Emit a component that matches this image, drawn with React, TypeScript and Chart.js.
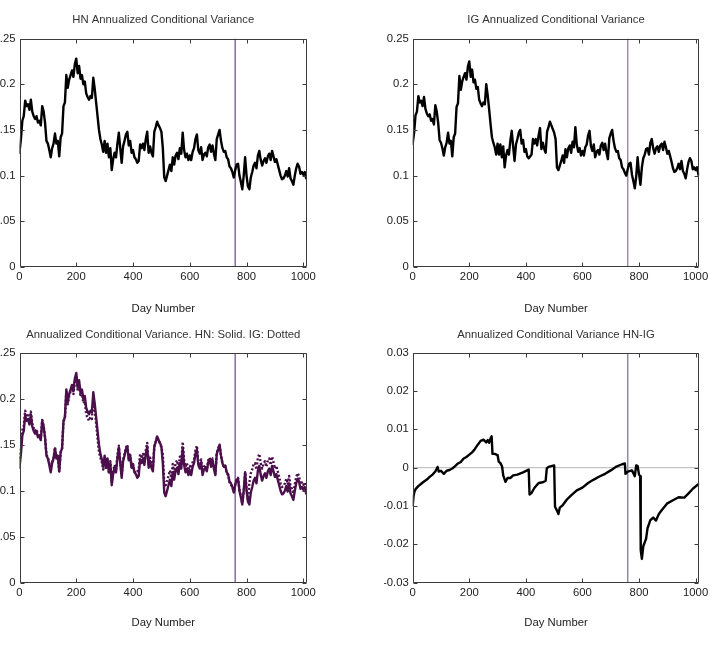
import React, { useEffect, useRef } from "react";
import { Chart, registerables } from "chart.js";

Chart.register(...registerables);
const fontFamily = "'Liberation Sans', Arial, Helvetica, sans-serif";
Chart.defaults.font.family = fontFamily;

// Trading-day grid shared by the two conditional-variance series (one reading every 5 days)
const days: number[] = Array.from({ length: 203 }, (_, i) => i * 5);

// HN model annualized conditional variance
const hnVariance: number[] = [
  0.125, 0.14, 0.16, 0.165, 0.182, 0.176, 0.178, 0.172, 0.183, 0.17,
  0.165, 0.162, 0.165, 0.158, 0.16, 0.155, 0.176, 0.17, 0.158, 0.138,
  0.135, 0.128, 0.12, 0.13, 0.135, 0.146, 0.135, 0.138, 0.121, 0.142,
  0.146, 0.176, 0.18, 0.21, 0.196, 0.205, 0.21, 0.215, 0.208, 0.222,
  0.228, 0.212, 0.22, 0.206, 0.21, 0.2, 0.203, 0.19, 0.186, 0.183,
  0.187, 0.185, 0.207, 0.195, 0.18, 0.165, 0.15, 0.14, 0.134, 0.126,
  0.138, 0.125, 0.135, 0.12, 0.13, 0.106, 0.118, 0.125, 0.12, 0.135,
  0.147, 0.13, 0.114, 0.132, 0.138, 0.145, 0.148, 0.133, 0.138, 0.125,
  0.128, 0.12, 0.118, 0.114, 0.116, 0.134, 0.13, 0.135, 0.128, 0.14,
  0.148, 0.125, 0.132, 0.125, 0.121, 0.148, 0.153, 0.159, 0.155, 0.152,
  0.148, 0.13, 0.098, 0.094, 0.1, 0.106, 0.112, 0.105, 0.12, 0.112,
  0.122, 0.125, 0.118, 0.13, 0.124, 0.147, 0.128, 0.12, 0.124, 0.117,
  0.122, 0.117, 0.126, 0.13, 0.14, 0.145, 0.128, 0.124, 0.131, 0.117,
  0.123, 0.125, 0.121, 0.131, 0.134, 0.126, 0.133, 0.124, 0.117, 0.14,
  0.145, 0.15, 0.138, 0.13, 0.126, 0.127, 0.12, 0.118, 0.11, 0.108,
  0.104, 0.098, 0.106, 0.112, 0.113, 0.1, 0.093, 0.085, 0.1, 0.12,
  0.1, 0.088, 0.085, 0.098, 0.104, 0.111, 0.114, 0.108, 0.122, 0.127,
  0.117, 0.111, 0.116, 0.119, 0.114, 0.121, 0.124, 0.117, 0.127, 0.121,
  0.115, 0.118, 0.112, 0.106, 0.1, 0.096, 0.097, 0.1, 0.105, 0.099,
  0.108, 0.097, 0.094, 0.09, 0.1, 0.108, 0.113, 0.11, 0.102, 0.104,
  0.101, 0.104, 0.097,
];

// IG model annualized conditional variance
const igVariance: number[] = [
  0.135, 0.147, 0.166, 0.17, 0.187, 0.18, 0.182, 0.176, 0.186, 0.173,
  0.168, 0.165, 0.167, 0.16, 0.162, 0.156, 0.177, 0.17, 0.158, 0.139,
  0.136, 0.13, 0.122, 0.131, 0.136, 0.147, 0.135, 0.138, 0.121, 0.142,
  0.146, 0.175, 0.179, 0.209, 0.194, 0.203, 0.208, 0.212, 0.205, 0.219,
  0.225, 0.208, 0.216, 0.202, 0.205, 0.195, 0.197, 0.183, 0.179, 0.176,
  0.18, 0.178, 0.2, 0.188, 0.173, 0.157, 0.142, 0.136, 0.131, 0.123,
  0.135, 0.123, 0.134, 0.12, 0.132, 0.109, 0.122, 0.128, 0.123, 0.138,
  0.149, 0.132, 0.116, 0.134, 0.14, 0.147, 0.15, 0.135, 0.139, 0.126,
  0.129, 0.121, 0.119, 0.121, 0.123, 0.14, 0.135, 0.14, 0.133, 0.144,
  0.152, 0.129, 0.136, 0.129, 0.125, 0.148, 0.153, 0.159, 0.155, 0.151,
  0.147, 0.14, 0.109, 0.106, 0.111, 0.116, 0.122, 0.114, 0.129, 0.12,
  0.13, 0.133, 0.125, 0.137, 0.131, 0.153, 0.134, 0.126, 0.13, 0.122,
  0.127, 0.122, 0.131, 0.134, 0.144, 0.149, 0.132, 0.127, 0.134, 0.12,
  0.126, 0.128, 0.123, 0.133, 0.136, 0.128, 0.135, 0.125, 0.118, 0.141,
  0.146, 0.15, 0.138, 0.13, 0.126, 0.127, 0.119, 0.117, 0.109, 0.107,
  0.103, 0.1, 0.107, 0.113, 0.114, 0.101, 0.094, 0.086, 0.099, 0.12,
  0.102, 0.09, 0.109, 0.119, 0.123, 0.129, 0.13, 0.123, 0.136, 0.14,
  0.13, 0.124, 0.13, 0.132, 0.126, 0.133, 0.135, 0.128, 0.137, 0.131,
  0.124, 0.127, 0.121, 0.115, 0.108, 0.104, 0.105, 0.108, 0.113, 0.107,
  0.116, 0.105, 0.102, 0.097, 0.107, 0.115, 0.119, 0.116, 0.107, 0.109,
  0.106, 0.109, 0.101,
];

// HN minus IG conditional variance
const diffDays: number[] = [
  0, 3, 6, 10, 20, 30, 40, 50, 60, 70, 80, 88, 92, 100, 110, 120, 130, 140, 150, 160,
  170, 180, 190, 200, 210, 220, 230, 240, 250, 260, 265, 270, 275, 279, 282, 290, 300, 304, 310, 316,
  320, 328, 335, 345, 355, 370, 390, 410, 413, 420, 430, 445, 460, 470, 474, 480, 490, 500, 503, 510,
  515, 520, 530, 545, 560, 580, 600, 620, 640, 660, 680, 700, 720, 740, 750, 752, 760, 775, 785, 790,
  795, 800, 804, 806, 810, 815, 825, 830, 840, 850, 860, 870, 880, 900, 920, 940, 960, 975, 990, 1010,
];
const diffValues: number[] = [
  -0.0098, -0.0075, -0.0063, -0.0056, -0.0048, -0.0042, -0.0036, -0.0031, -0.0024, -0.0018,
  -0.001, 0.0002, -0.001, -0.0008, -0.0016, -0.0008, -0.0006, -0.0002, 0.0004, 0.0011,
  0.0015, 0.0024, 0.0028, 0.0034, 0.004, 0.0049, 0.006, 0.007, 0.0073, 0.0066,
  0.0072, 0.0065, 0.0076, 0.0082, 0.0036, 0.0036, 0.0033, 0.0016, 0.0012, 0.0003,
  -0.002, -0.0037, -0.0027, -0.0027, -0.002, -0.0018, -0.0012, -0.0005, -0.007, -0.0066,
  -0.0053, -0.004, -0.0038, -0.0034, -0.0002, 0.0002, 0.0004, 0.0006, -0.0102, -0.0112,
  -0.0121, -0.0104, -0.0098, -0.0083, -0.0072, -0.0059, -0.0052, -0.004, -0.0031, -0.0023,
  -0.0016, -0.0007, 0.0003, 0.0009, 0.0011, -0.0016, -0.001, -0.0007, -0.0022, 0.0006,
  0.0004, -0.0018, -0.0022, -0.0215, -0.0238, -0.0205, -0.0185, -0.0158, -0.0137, -0.013,
  -0.0138, -0.0121, -0.0111, -0.0093, -0.0085, -0.0077, -0.0078, -0.0067, -0.0055, -0.0043,
];

// Day at which the estimation sample ends
const sampleBreakDay = 760;
const dayMax = 1013;

// Axis ticks
const xTickValues: number[] = [0, 200, 400, 600, 800, 1000];
const xTickLabels: string[] = ["0", "200", "400", "600", "800", "1000"];
const varTickValues: number[] = [0, 0.05, 0.1, 0.15, 0.2, 0.25];
const varTickLabels: string[] = ["0", "0.05", "0.1", "0.15", "0.2", "0.25"];
const diffTickValues: number[] = [-0.03, -0.02, -0.01, 0, 0.01, 0.02, 0.03];
const diffTickLabels: string[] = ["-0.03", "-0.02", "-0.01", "0", "0.01", "0.02", "0.03"];

const titles: string[] = [
  "HN Annualized Conditional Variance",
  "IG Annualized Conditional Variance",
  "Annualized Conditional Variance. HN: Solid. IG: Dotted",
  "Annualized Conditional Variance HN-IG",
];
const xAxisTitle = "Day Number";

const textSize = 11.3;

const toPoints = (xs: number[], ys: number[]) => xs.map((x, i) => ({ x, y: ys[i] }));

// Box around the plot area with inward-pointing tick marks on all four sides
const framePlugin = {
  id: "matlabFrame",
  afterDraw(chart: any) {
    const { ctx, chartArea: a, scales } = chart;
    const xs = scales.x;
    const ys = scales.y;
    const L = 4;
    const left = Math.round(a.left) + 0.5;
    const right = Math.round(a.right) - 0.5;
    const top = Math.round(a.top) + 0.5;
    const bottom = Math.round(a.bottom) - 0.5;
    ctx.save();
    ctx.strokeStyle = "#3c3c3c";
    ctx.lineWidth = 1;
    ctx.beginPath();
    ctx.rect(left, top, right - left, bottom - top);
    xs.ticks.forEach((t: any) => {
      const px = Math.round(xs.getPixelForValue(t.value)) + 0.5;
      ctx.moveTo(px, bottom);
      ctx.lineTo(px, bottom - L);
      ctx.moveTo(px, top);
      ctx.lineTo(px, top + L);
    });
    ys.ticks.forEach((t: any) => {
      const py = Math.round(ys.getPixelForValue(t.value)) + 0.5;
      ctx.moveTo(left, py);
      ctx.lineTo(left + L, py);
      ctx.moveTo(right, py);
      ctx.lineTo(right - L, py);
    });
    ctx.stroke();
    ctx.restore();
  },
};

// Panel heading centred over the plot area
const panelTitlePlugin = {
  id: "panelTitle",
  afterDraw(chart: any, _args: any, opts: any) {
    const { ctx, chartArea: a } = chart;
    ctx.save();
    ctx.fillStyle = "#333";
    ctx.font = `${textSize}px ${fontFamily}`;
    ctx.textAlign = "center";
    ctx.textBaseline = "middle";
    ctx.fillText(opts.text, (a.left + a.right) / 2, a.top - opts.gap);
    ctx.restore();
  },
};

type PanelSpec = {
  left: number;
  top: number;
  width: number;
  height: number;
  yAxisWidth: number;
  padRight: number;
  padTop: number;
  padBottom: number;
  titleGap: number;
  xAxisHeight: number;
  title: string;
  yMin: number;
  yMax: number;
  yTicks: number[];
  yLabels: string[];
  datasets: any[];
};

function Panel({ spec }: { spec: PanelSpec }) {
  const ref = useRef<HTMLCanvasElement | null>(null);
  useEffect(() => {
    if (!ref.current) return;
    const chart = new Chart(ref.current, {
      type: "line",
      data: { datasets: spec.datasets },
      plugins: [framePlugin, panelTitlePlugin],
      options: {
        animation: false,
        responsive: false,
        maintainAspectRatio: false,
        layout: { padding: { left: 0, top: spec.padTop, right: spec.padRight, bottom: spec.padBottom } },
        plugins: {
          legend: { display: false },
          tooltip: { enabled: false },
          title: { display: false },
          panelTitle: { text: spec.title, gap: spec.titleGap },
        },
        elements: { point: { radius: 0 }, line: { tension: 0 } },
        scales: {
          x: {
            type: "linear",
            min: 0,
            max: dayMax,
            grid: { display: false, drawTicks: false },
            border: { display: false },
            afterBuildTicks: (s: any) => {
              s.ticks = xTickValues.map((v) => ({ value: v }));
            },
            afterFit: (s: any) => {
              s.height = spec.xAxisHeight;
            },
            ticks: {
              autoSkip: false,
              maxRotation: 0,
              padding: 3,
              color: "#222",
              font: { size: textSize },
              callback: (_v: any, i: number) => xTickLabels[i],
            },
            title: {
              display: true,
              text: xAxisTitle,
              color: "#222",
              font: { size: textSize },
              padding: { top: 0, bottom: 0 },
            },
          },
          y: {
            type: "linear",
            min: spec.yMin,
            max: spec.yMax,
            grid: { display: false, drawTicks: false },
            border: { display: false },
            afterBuildTicks: (s: any) => {
              s.ticks = spec.yTicks.map((v) => ({ value: v }));
            },
            afterFit: (s: any) => {
              s.width = spec.yAxisWidth;
            },
            ticks: {
              autoSkip: false,
              padding: 4,
              color: "#222",
              font: { size: textSize },
              callback: (_v: any, i: number) => spec.yLabels[i],
            },
          },
        },
      } as any,
    });
    return () => chart.destroy();
  }, [spec]);
  return (
    <canvas
      ref={ref}
      width={spec.width}
      height={spec.height}
      style={{
        position: "absolute",
        left: spec.left,
        top: spec.top,
        width: spec.width,
        height: spec.height,
      }}
    />
  );
}

const black = "#000000";
const purple = "#4b0f4b";

const seriesLine = (data: any[], color: string, dash: number[] = []) => ({
  data,
  borderColor: color,
  borderWidth: 2.4,
  borderDash: dash,
  borderJoinStyle: "round",
  borderCapStyle: dash.length ? "butt" : "round",
  pointRadius: 0,
  fill: false,
});

const markerLine = (y0: number, y1: number, color: string) => ({
  data: [
    { x: sampleBreakDay, y: y0 },
    { x: sampleBreakDay, y: y1 },
  ],
  borderColor: color,
  borderWidth: 1.5,
  pointRadius: 0,
  fill: false,
});

const topRow = { top: 0, height: 320, padTop: 38.5, padBottom: 4.4, titleGap: 18.5, xAxisHeight: 48.6 };
const bottomRow = { top: 320, height: 337, padTop: 32.7, padBottom: 27.1, titleGap: 18, xAxisHeight: 47.2 };
const leftCol = { left: -31, width: 388, yAxisWidth: 50.5, padRight: 50 };
const rightCol = { left: 384, width: 330, yAxisWidth: 28.7, padRight: 14.7 };

const hnPoints = toPoints(days, hnVariance);
const igPoints = toPoints(days, igVariance);
const diffPoints = toPoints(diffDays, diffValues);

const panels: PanelSpec[] = [
  {
    ...topRow,
    ...leftCol,
    title: titles[0],
    yMin: 0,
    yMax: 0.25,
    yTicks: varTickValues,
    yLabels: varTickLabels,
    datasets: [seriesLine(hnPoints, black), markerLine(0, 0.25, "#8a6a9c")],
  },
  {
    ...topRow,
    ...rightCol,
    title: titles[1],
    yMin: 0,
    yMax: 0.25,
    yTicks: varTickValues,
    yLabels: varTickLabels,
    datasets: [seriesLine(igPoints, black), markerLine(0, 0.25, "#a48ca8")],
  },
  {
    ...bottomRow,
    ...leftCol,
    title: titles[2],
    yMin: 0,
    yMax: 0.25,
    yTicks: varTickValues,
    yLabels: varTickLabels,
    datasets: [
      seriesLine(hnPoints, purple),
      seriesLine(igPoints, purple, [2, 2]),
      markerLine(0, 0.25, "#8a6a9c"),
    ],
  },
  {
    ...bottomRow,
    ...rightCol,
    title: titles[3],
    yMin: -0.03,
    yMax: 0.03,
    yTicks: diffTickValues,
    yLabels: diffTickLabels,
    datasets: [
      seriesLine(diffPoints, black),
      {
        data: [
          { x: 0, y: 0 },
          { x: dayMax, y: 0 },
        ],
        borderColor: "#b4b4b4",
        borderWidth: 1,
        pointRadius: 0,
        fill: false,
      },
      markerLine(-0.03, 0.03, "#8c8ca6"),
    ],
  },
];

export default function App() {
  return (
    <div
      style={{
        position: "absolute",
        left: 0,
        top: 0,
        width: 714,
        height: 657,
        overflow: "hidden",
        background: "#ffffff",
      }}
    >
      {panels.map((p, i) => (
        <Panel key={i} spec={p} />
      ))}
    </div>
  );
}
